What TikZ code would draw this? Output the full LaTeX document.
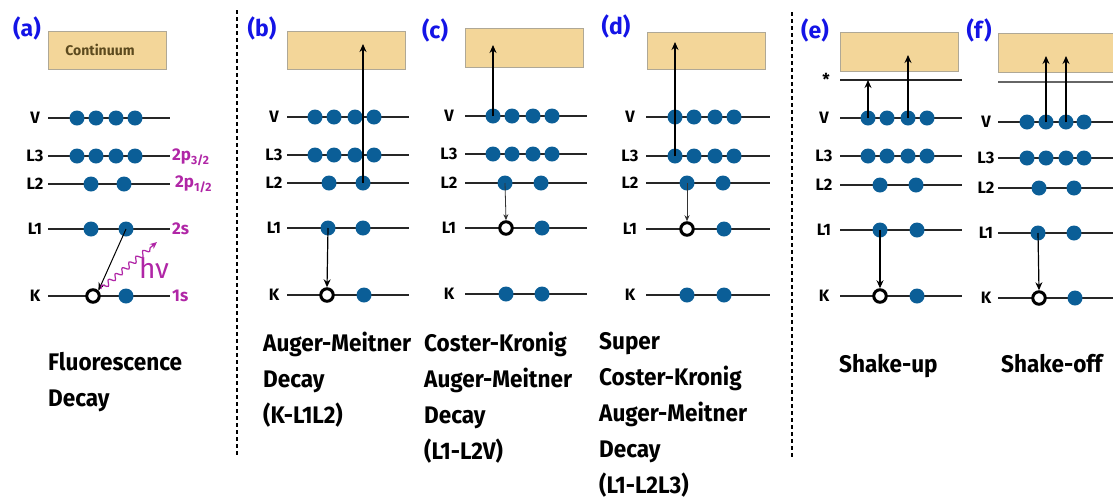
\documentclass[tikz,border=0pt]{standalone}
\usepackage{fontspec}
\setmainfont{Fira Sans}
\newfontfamily\capfont[FakeStretch=0.94]{Fira Sans}
\usetikzlibrary{decorations.pathmorphing,arrows.meta}
\definecolor{dotblue}{RGB}{11,94,151}
\definecolor{boxfill}{RGB}{243,214,153}
\definecolor{boxdraw}{RGB}{175,168,150}
\definecolor{mag}{RGB}{176,38,166}
\definecolor{lblue}{RGB}{20,20,230}
\definecolor{brn}{RGB}{92,74,30}
\tikzset{
  lvl/.style={line width=1.3pt, black!85},
  edot/.style={circle, fill=dotblue, inner sep=0pt, minimum size=15pt},
  hole/.style={circle, draw=black, line width=3pt, fill=white, inner sep=0pt, minimum size=12.5pt},
  cont/.style={draw=boxdraw, fill=boxfill, line width=1pt},
  lvlabel/.style={font=\bfseries\fontsize{16.5}{16.5}\selectfont, anchor=center, inner sep=0pt},
  maglabel/.style={text=mag, font=\bfseries\fontsize{17}{17}\selectfont, anchor=west, inner sep=0pt},
  plabel/.style={text=lblue, font=\bfseries\fontsize{23}{23}\selectfont, inner sep=0pt},
  captext/.style={font=\capfont\bfseries\fontsize{24}{36}\selectfont, align=left, anchor=north west, inner sep=0pt},
  arr/.style={-{Stealth[length=8pt,width=7pt]}, line width=1.2pt},
  tarr/.style={-{Stealth[length=6pt,width=5pt]}, line width=0.8pt, black!80},
  sep/.style={line width=2.6pt, dash pattern=on 4pt off 3pt},
}
\begin{document}
\begin{tikzpicture}[x=1pt,y=-1pt]
\path[use as bounding box, clip] (0,0) rectangle (1113,499);

% separators
\coordinate (s1t) at (237,10); \coordinate (s1b) at (237,457);
\coordinate (s2t) at (792,12); \coordinate (s2b) at (792,458);
\draw[sep] (s1t) -- (s1b);
\draw[sep] (s2t) -- (s2b);

% ================= (a)
\node[plabel] (pa) at (27,28) {(a)};
\node[cont, minimum width=118pt, minimum height=38pt, inner sep=0pt] (aBox) at (107,50) {};
\node[text=brn, font=\bfseries\fontsize{14}{14}\selectfont] (aCont) at (100,50) {Continuum};
\foreach \n/\y in {V/118,L3/156,L2/184,L1/229,K/296}{
  \draw[lvl] (48,\y) -- (170,\y);
  \node[lvlabel] (a\n lab) at (35,\y) {\n};
}
\foreach \x [count=\i] in {77,96,116,135}{
  \node[edot] (aV\i) at (\x,118) {};
  \node[edot] (aL3\i) at (\x,156) {};
}
\node[edot] (aL21) at (91,184) {}; \node[edot] (aL22) at (124,184) {};
\node[edot] (aL11) at (91,229) {}; \node[edot] (aL12) at (126,229) {};
\node[hole] (aKh) at (93,296) {}; \node[edot] (aK2) at (126,296) {};
\node[maglabel] (m1) at (172,157) {2p\textsubscript{3/2}};
\node[maglabel] (m2) at (175,184) {2p\textsubscript{1/2}};
\node[maglabel] (m3) at (172,229) {2s};
\node[maglabel] (m4) at (172,296) {1s};
\draw[arr, line width=1pt] (aL12.center) -- (aKh.north east);
\coordinate (photS) at (101,289);
\coordinate (photE) at (157,242);
\draw[mag, line width=1.2pt, -{Stealth[length=7pt,width=6pt]},
  decorate, decoration={snake, amplitude=2.6pt, segment length=9pt, post length=6pt}]
  (photS) -- (photE);
\node[text=mag, font=\fontsize{28}{28}\selectfont, inner sep=0pt] (hnu) at (154,268) {hν};
\node[captext] (capA) at (48,352) {Fluorescence\\Decay};

% ================= (b)
\node[plabel] (pb) at (262,28) {(b)};
\node[cont, minimum width=118pt, minimum height=38pt] (bBox) at (346,50) {};
\foreach \n/\y in {V/117,L3/155,L2/183,L1/228,K/295}{
  \draw[lvl] (287,\y) -- (409,\y);
  \node[lvlabel] (b\n lab) at (274,\y) {\n};
}
\foreach \x [count=\i] in {315,334,355,374}{
  \node[edot] (bV\i) at (\x,117) {};
  \node[edot] (bL3\i) at (\x,155) {};
}
\node[edot] (bL21) at (329,183) {}; \node[edot] (bL22) at (363,183) {};
\node[edot] (bL11) at (328,228) {}; \node[edot] (bL12) at (363,228) {};
\node[hole] (bKh) at (327,295) {}; \node[edot] (bK2) at (364,295) {};
\coordinate (bTop) at (363,44);
\draw[arr] (bL22.center) -- (bTop);
\draw[arr] (bL11.center) -- (bKh.north);
\node[captext] (capB) at (263,332) {Auger-Meitner\\Decay\\(K-L1L2)};

% ================= (c)
\node[plabel] (pc) at (435,30) {(c)};
\node[cont, minimum width=118pt, minimum height=39pt] (cBox) at (524,48) {};
\foreach \n/\y in {V/116,L3/154,L2/183,L1/228,K/294}{
  \draw[lvl] (465,\y) -- (587,\y);
  \node[lvlabel] (c\n lab) at (449,\y) {\n};
}
\foreach \x [count=\i] in {493,512,533,552}{
  \node[edot] (cV\i) at (\x,116) {};
  \node[edot] (cL3\i) at (\x,154) {};
}
\node[edot] (cL21) at (505,183) {}; \node[edot] (cL22) at (541,183) {};
\node[hole] (cL1h) at (506,228) {}; \node[edot] (cL12) at (542,228) {};
\node[edot] (cK1) at (506,294) {}; \node[edot] (cK2) at (542,294) {};
\coordinate (cTop) at (493,45);
\draw[arr] (cV1.center) -- (cTop);
\draw[tarr] (cL21.center) -- (cL1h.north);
\node[captext] (capC) at (424,332) {Coster-Kronig\\Auger-Meitner\\Decay\\(L1-L2V)};

% ================= (d)
\node[plabel] (pd) at (616,26) {(d)};
\node[cont, minimum width=118pt, minimum height=37pt] (dBox) at (706,50.5) {};
\foreach \n/\y in {V/117,L3/156,L2/183,L1/229,K/295}{
  \draw[lvl] (646,\y) -- (770,\y);
  \node[lvlabel] (d\n lab) at (630,\y) {\n};
}
\foreach \x [count=\i] in {675,694,715,734}{
  \node[edot] (dV\i) at (\x,117) {};
  \node[edot] (dL3\i) at (\x,156) {};
}
\node[edot] (dL21) at (687,183) {}; \node[edot] (dL22) at (723,183) {};
\node[hole] (dL1h) at (687,229) {}; \node[edot] (dL12) at (724,229) {};
\node[edot] (dK1) at (687,295) {}; \node[edot] (dK2) at (724,295) {};
\coordinate (dTop) at (675,42);
\draw[arr] (dL31.center) -- (dTop);
\draw[tarr] (dL21.center) -- (dL1h.north);
\node[captext] (capD) at (599,332) {Super\\Coster-Kronig\\Auger-Meitner\\Decay\\(L1-L2L3)};

% ================= (e)
\node[plabel] (pe) at (815,30) {(e)};
\node[cont, minimum width=118pt, minimum height=39pt] (eBox) at (899,51.5) {};
\draw[lvl] (840,80) -- (962,80);
\node[lvlabel] (eStar) at (826,79) {*};
\foreach \n/\y in {V/118,L3/156,L2/185,L1/230,K/296}{
  \draw[lvl] (840,\y) -- (962,\y);
  \node[lvlabel] (e\n lab) at (824,\y) {\n};
}
\foreach \x [count=\i] in {868,887,908,927}{
  \node[edot] (eV\i) at (\x,118) {};
  \node[edot] (eL3\i) at (\x,156) {};
}
\node[edot] (eL21) at (880,185) {}; \node[edot] (eL22) at (916,185) {};
\node[edot] (eL11) at (880,230) {}; \node[edot] (eL12) at (917,230) {};
\node[hole] (eKh) at (880,296) {}; \node[edot] (eK2) at (917,296) {};
\coordinate (eStarT) at (868,80);
\coordinate (eTop) at (908,55);
\draw[arr] (eV1.center) -- (eStarT);
\draw[arr] (eV3.center) -- (eTop);
\draw[arr] (eL11.center) -- (eKh.north);
\node[captext] (capE) at (839,354) {Shake-up};

% ================= (f)
\node[plabel] (pf) at (979,30) {(f)};
\node[cont, minimum width=130pt, minimum height=39pt] (fBox) at (1063,52.5) {};
\draw[line width=1.1pt, black!60] (998,82) -- (1113,82);
\foreach \n/\y in {V/122,L3/158,L2/188,L1/233,K/298}{
  \draw[lvl] (998,\y) -- (1113,\y);
  \node[lvlabel] (f\n lab) at (986,\y) {\n};
}
\foreach \x [count=\i] in {1027,1046,1066,1084}{
  \node[edot] (fV\i) at (\x,122) {};
  \node[edot] (fL3\i) at (\x,158) {};
}
\node[edot] (fL21) at (1039,188) {}; \node[edot] (fL22) at (1074,188) {};
\node[edot] (fL11) at (1038,233) {}; \node[edot] (fL12) at (1074,233) {};
\node[hole] (fKh) at (1039,298) {}; \node[edot] (fK2) at (1075,298) {};
\coordinate (fTop2) at (1046,56);
\coordinate (fTop3) at (1066,56);
\draw[arr] (fV2.center) -- (fTop2);
\draw[arr] (fV3.center) -- (fTop3);
\draw[arr] (fL11.center) -- (fKh.north);
\node[captext] (capF) at (1001,354) {Shake-off};
\end{tikzpicture}
\end{document}
